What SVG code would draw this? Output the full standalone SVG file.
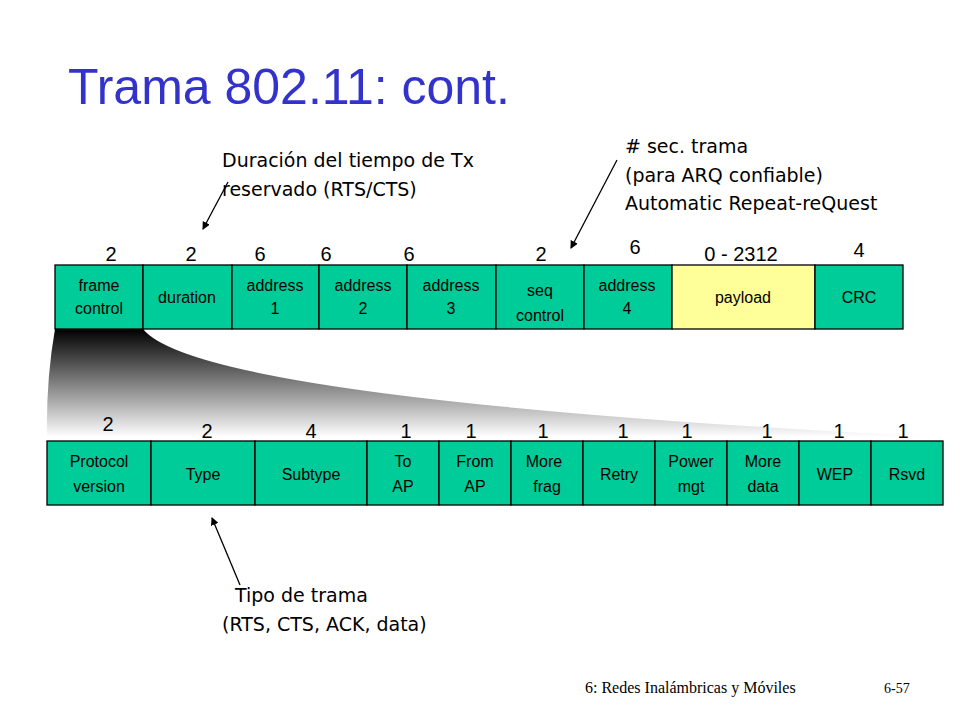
<svg xmlns="http://www.w3.org/2000/svg" width="960" height="720" viewBox="0 0 960 720">
<defs>
<style>
.b{fill:#00cc99;stroke:#000;stroke-width:1.3}
.y{fill:#ffff99;stroke:#000;stroke-width:1.3}
.t{font-family:"Liberation Sans",Arial,sans-serif;font-size:16px;fill:#000;text-anchor:middle}
.n{font-family:"Liberation Sans",Arial,sans-serif;font-size:20px;fill:#000;text-anchor:middle}
.a{font-family:"DejaVu Sans",sans-serif;font-size:19px;fill:#000}
</style>
<linearGradient id="g" x1="0" y1="0" x2="0" y2="1">
<stop offset="0" stop-color="#000"/><stop offset="1" stop-color="#fff"/>
</linearGradient>
<marker id="ar" markerWidth="8" markerHeight="8" refX="7" refY="4" orient="auto" markerUnits="userSpaceOnUse"><path d="M0,0 L8,4 L0,8 z" fill="#000"/></marker>
</defs>
<rect width="960" height="720" fill="#fff"/>
<text x="68" y="104" font-family="Liberation Sans,Arial,sans-serif" font-size="50" fill="#3333cc">Trama 802.11: cont.</text>
<path d="M55,329 L143,329 Q200,400 940,437 L47,437 Q46,380 55,329 z" fill="url(#g)"/>
<g id="top" class="t">
<g id="fc"><rect class="b" x="55" y="265" width="88" height="64"/><text x="99" y="291">frame</text><text x="99" y="314">control</text></g>
<g id="dur"><rect class="b" x="143" y="265" width="89" height="64"/><text x="187" y="303">duration</text></g>
<g id="a1"><rect class="b" x="232" y="265" width="87" height="64"/><text x="275" y="291">address</text><text x="275" y="314">1</text></g>
<g id="a2"><rect class="b" x="319" y="265" width="88" height="64"/><text x="363" y="291">address</text><text x="363" y="314">2</text></g>
<g id="a3"><rect class="b" x="407" y="265" width="89" height="64"/><text x="451" y="291">address</text><text x="451" y="314">3</text></g>
<g id="seq"><rect class="b" x="496" y="265" width="88" height="64"/><text x="540" y="296">seq</text><text x="540" y="321">control</text></g>
<g id="a4"><rect class="b" x="584" y="265" width="88" height="64"/><text x="627" y="291">address</text><text x="627" y="314">4</text></g>
<g id="pl"><rect class="y" x="672" y="265" width="143" height="64"/><text x="743" y="303">payload</text></g>
<g id="crc"><rect class="b" x="815" y="265" width="88" height="64"/><text x="859" y="303">CRC</text></g>
</g>
<g class="n">
<text x="111" y="261">2</text><text x="191" y="261">2</text><text x="260" y="261">6</text><text x="326" y="261">6</text><text x="409" y="261">6</text><text x="541" y="261">2</text><text x="635" y="254">6</text><text x="741" y="261">0 - 2312</text><text x="859" y="257">4</text>
</g>
<g id="bot" class="t">
<g id="pv"><rect class="b" x="47" y="441" width="104" height="64"/><text x="99" y="467">Protocol</text><text x="99" y="492">version</text></g>
<g id="ty"><rect class="b" x="151" y="441" width="104" height="64"/><text x="203" y="480">Type</text></g>
<g id="st"><rect class="b" x="255" y="441" width="112" height="64"/><text x="311" y="480">Subtype</text></g>
<g id="ta"><rect class="b" x="367" y="441" width="72" height="64"/><text x="403" y="467">To</text><text x="403" y="492">AP</text></g>
<g id="fa"><rect class="b" x="439" y="441" width="72" height="64"/><text x="475" y="467">From</text><text x="475" y="492">AP</text></g>
<g id="mf"><rect class="b" x="511" y="441" width="72" height="64"/><text x="544" y="467">More</text><text x="547" y="492">frag</text></g>
<g id="re"><rect class="b" x="583" y="441" width="72" height="64"/><text x="619" y="480">Retry</text></g>
<g id="pm"><rect class="b" x="655" y="441" width="72" height="64"/><text x="691" y="467">Power</text><text x="691" y="492">mgt</text></g>
<g id="md"><rect class="b" x="727" y="441" width="72" height="64"/><text x="763" y="467">More</text><text x="763" y="492">data</text></g>
<g id="wep"><rect class="b" x="799" y="441" width="72" height="64"/><text x="835" y="480">WEP</text></g>
<g id="rs"><rect class="b" x="871" y="441" width="72" height="64"/><text x="907" y="480">Rsvd</text></g>
</g>
<g class="n">
<text x="108" y="431">2</text><text x="207" y="438">2</text><text x="311" y="438">4</text><text x="406" y="438">1</text><text x="471" y="438">1</text><text x="543" y="438">1</text><text x="623" y="438">1</text><text x="687" y="438">1</text><text x="767" y="438">1</text><text x="839" y="438">1</text><text x="903" y="438">1</text>
</g>
<g id="connectors" stroke="#000" stroke-width="1.3" fill="none">
<line x1="228" y1="182" x2="203" y2="229" marker-end="url(#ar)"/>
<line x1="617" y1="160" x2="571" y2="248" marker-end="url(#ar)"/>
<line x1="240" y1="585" x2="212" y2="518" marker-end="url(#ar)"/>
</g>
<g class="a">
<text x="222" y="167">Duración del tiempo de Tx</text>
<text x="222" y="196">reservado (RTS/CTS)</text>
<text x="625" y="153">#  sec. trama</text>
<text x="625" y="182">(para ARQ confiable)</text>
<text x="625" y="210">Automatic Repeat-reQuest</text>
<text x="235" y="602">Tipo de trama</text>
<text x="222" y="631">(RTS, CTS, ACK, data)</text>
</g>
<text x="585" y="693" font-family="Liberation Serif,serif" font-size="16">6: Redes Inalámbricas y Móviles</text>
<text x="884" y="693" font-family="Liberation Serif,serif" font-size="14">6-57</text>
</svg>
